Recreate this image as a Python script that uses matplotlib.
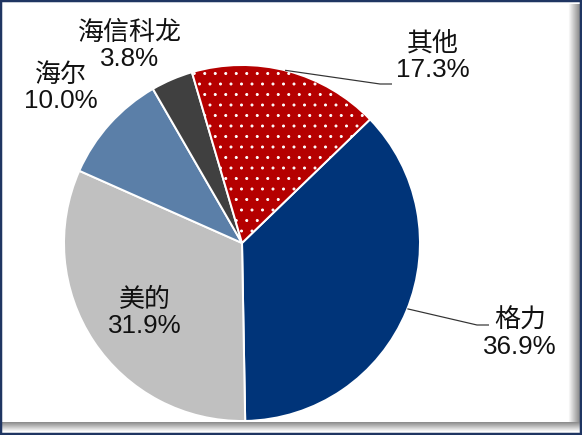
import numpy as np
import matplotlib.pyplot as plt
from matplotlib.patches import Rectangle

# market share data
brands = ['格力', '美的', '海尔', '海信科龙', '其他']
shares = [36.9, 31.9, 10.0, 3.8, 17.3]
colors = ['#003479', '#C0C0C0', '#5B7FA8', '#404040', '#B50000']
hatches = [None, None, None, None, '..']

# label block centres, pixels from top-left
label_pos = [(520, 334), (145, 313), (61, 88), (130, 46), (433, 57)]
# leader lines: brand -> (angle on rim in deg, elbow px, end px)
leaders = {'格力': (-21.7, (477, 325), (489, 325)),
           '其他': (76.0, (380, 84), (392, 84))}

W, H = 582, 435
DPI = 126
plt.rcParams['font.family'] = ['Liberation Sans', 'Noto Sans CJK SC', 'DejaVu Sans']
plt.rcParams['hatch.linewidth'] = 0.5
plt.rcParams['hatch.color'] = 'white'

px = 72 / DPI  # one pixel in points

fig = plt.figure(figsize=(W / DPI, H / DPI), dpi=DPI)
ax = fig.add_axes([0, 0, 1, 1])

cx, cy, r = 242, H - 243, 178
wedges, _ = ax.pie(shares, colors=colors, startangle=44, counterclock=False,
                   center=(cx, cy), radius=r, frame=True,
                   wedgeprops=dict(edgecolor='white', linewidth=2 * px))
for w, h in zip(wedges, hatches):
    if h:
        w.set_hatch(h)

ax.set_xlim(0, W)
ax.set_ylim(0, H)
ax.axis('off')

# labels
for b, s, (lx, ly) in zip(brands, shares, label_pos):
    ax.text(lx, H - ly, f'{b}\n{s:.1f}%', ha='center', va='center',
            fontsize=26 * px, linespacing=1.12, color='#111111')

# leader lines
for b, (ang, elbow, end) in leaders.items():
    a = np.deg2rad(ang)
    xs = [cx + r * np.cos(a), elbow[0], end[0]]
    ys = [cy + r * np.sin(a), H - elbow[1], H - end[1]]
    ax.plot(xs, ys, color='#333333', lw=1.2 * px, solid_capstyle='butt')

# drop shadow on right and bottom
grad = np.linspace(1.0, 0.55, 12)
ax.imshow(grad[None, :], cmap='gray', vmin=0, vmax=1, aspect='auto',
          extent=(568, 580, 3, H - 4), zorder=5, interpolation='bilinear')
ax.imshow(grad[:, None][::-1], cmap='gray', vmin=0, vmax=1, aspect='auto',
          extent=(2, 580, 3, 13), zorder=5, interpolation='bilinear', origin='upper')

# outer frame
ax.add_patch(Rectangle((1, 1), W - 2, H - 2, fill=False, edgecolor='#1F3562',
                       lw=2.5 * px, zorder=6))
ax.set_xlim(0, W)
ax.set_ylim(0, H)

fig.savefig('out.png', dpi=DPI)
